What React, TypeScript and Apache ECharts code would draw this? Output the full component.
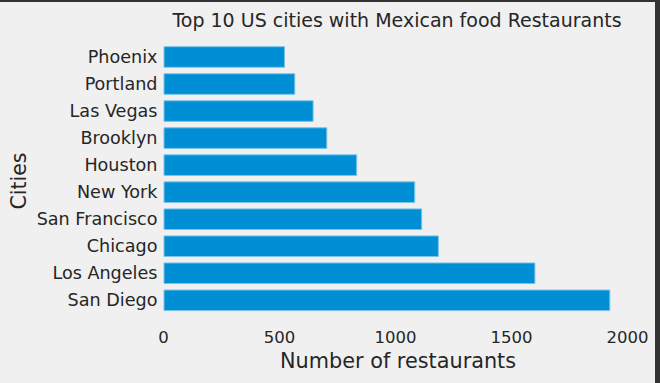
import React, { useEffect, useRef } from "react";
import * as echarts from "echarts";

const cities = [
  "San Diego",
  "Los Angeles",
  "Chicago",
  "San Francisco",
  "New York",
  "Houston",
  "Brooklyn",
  "Las Vegas",
  "Portland",
  "Phoenix",
];
const restaurants = [1926, 1603, 1187, 1115, 1085, 835, 706, 647, 568, 524];
const xTicks = [0, 500, 1000, 1500, 2000];

const FONT = "DejaVu Sans";
const TEXT = "#262626";

export default function App() {
  const ref = useRef<HTMLDivElement>(null);
  useEffect(() => {
    document.body.style.margin = "0";
    const chart = echarts.init(ref.current!, null, { renderer: "svg" });
    chart.setOption({
      animation: false,
      backgroundColor: "#f0f0f0",
      textStyle: { fontFamily: FONT },
      title: {
        text: "Top 10 US cities with Mexican food Restaurants",
        left: 392,
        textAlign: "center",
        top: 5,
        textStyle: { fontFamily: FONT, fontSize: 19, fontWeight: "normal", color: TEXT },
      },
      grid: {
        left: 163.5,
        right: 27.4,
        top: 43.5,
        bottom: 69.2,
        containLabel: false,
        outerBoundsMode: "none",
      },
      xAxis: {
        type: "value",
        min: 0,
        max: 2022,
        interval: 500,
        name: "Number of restaurants",
        nameLocation: "middle",
        nameGap: 37,
        nameTextStyle: { fontFamily: FONT, fontSize: 20.8, color: TEXT },
        axisLine: { show: false },
        axisTick: { show: false },
        splitLine: { show: false },
        axisLabel: {
          fontFamily: FONT,
          fontSize: 16.5,
          color: TEXT,
          margin: 15,
          showMaxLabel: false,
          formatter: (v: number) => (xTicks.includes(v) ? String(v) : ""),
        },
      },
      yAxis: {
        type: "category",
        data: cities,
        axisLine: { show: false },
        axisTick: { show: false },
        splitLine: { show: false },
        axisLabel: { fontFamily: FONT, fontSize: 17.6, color: TEXT, margin: 6 },
      },
      series: [
        {
          type: "bar",
          data: restaurants,
          barWidth: "80%",
          itemStyle: { color: "#008fd5", borderColor: "#7cc4e8", borderWidth: 1 },
        },
      ],
      graphic: [
        {
          type: "text",
          x: 18.5,
          y: 181,
          rotation: Math.PI / 2,
          style: {
            text: "Cities",
            fontFamily: FONT,
            fontSize: 20.5,
            fill: TEXT,
            textAlign: "center",
            textVerticalAlign: "middle",
          },
          silent: true,
        },
        { type: "rect", shape: { x: 0, y: 0, width: 660, height: 2 }, style: { fill: "#333333" }, silent: true },
        { type: "rect", shape: { x: 655, y: 0, width: 5, height: 383 }, style: { fill: "#333333" }, silent: true },
      ],
    });
    return () => chart.dispose();
  }, []);
  return <div ref={ref} style={{ position: "fixed", left: 0, top: 0, width: 660, height: 383 }} />;
}
